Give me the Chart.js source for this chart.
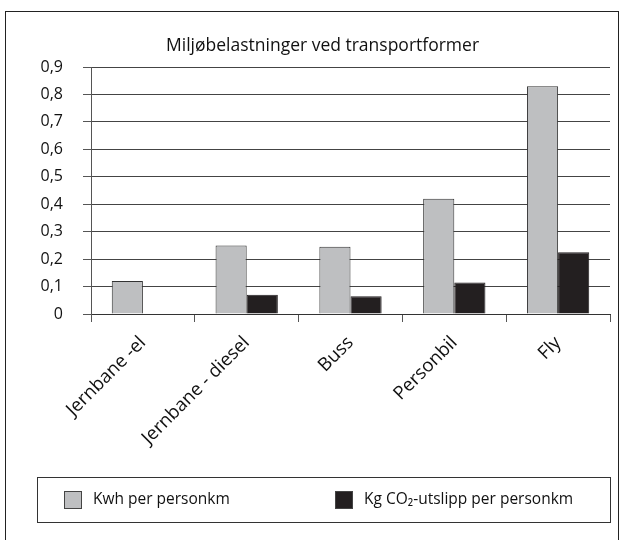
<!DOCTYPE html>
<html>
<head>
<meta charset="utf-8">
<script src="https://cdn.jsdelivr.net/npm/chart.js@4"></script>
<style>
  html, body { margin: 0; padding: 0; background: #fff; }
  #wrap { width: 621px; height: 540px; }
</style>
</head>
<body>
<div id="wrap"><canvas id="myChart" width="621" height="540"></canvas></div>
<script>
// Data

const categories = ["Jernbane -el", "Jernbane - diesel", "Buss", "Personbil", "Fly"];
const kwhPerKm = [0.12, 0.25, 0.245, 0.42, 0.83];
const co2PerKm = [0, 0.07, 0.065, 0.115, 0.225];
const yTickLabels = ["0", "0,1", "0,2", "0,3", "0,4", "0,5", "0,6", "0,7", "0,8", "0,9"];
const seriesNames = ["Kwh per personkm", "Kg CO\u2082-utslipp per personkm"];

const FONT = "'Open Sans', sans-serif";

// Frame round the whole figure and the boxed legend

const framePlugin = {
    id: "frame",
    beforeDraw(chart) {
        const ctx = chart.ctx;
        ctx.save();
        ctx.strokeStyle = "#222";
        ctx.lineWidth = 1;
        ctx.strokeRect(5.5, 11.5, 613, 560);
        ctx.restore();
    },
    afterDraw(chart) {
        const ctx = chart.ctx;
        ctx.save();
        ctx.strokeStyle = "#333";
        ctx.lineWidth = 1;
        ctx.strokeRect(37.5, 477.5, 573, 45);

        const itemX = [64, 335];
        ctx.font = "15.5px " + FONT;
        ctx.textBaseline = "middle";
        ctx.textAlign = "left";
        chart.data.datasets.forEach((ds, i) => {
            const x = itemX[i];
            ctx.fillStyle = ds.backgroundColor;
            ctx.fillRect(x, 491, 18, 18);
            ctx.strokeStyle = "#444";
            ctx.strokeRect(x + 0.5, 491.5, 17, 17);
            ctx.fillStyle = "#111";
            ctx.fillText(ds.label, x + 29, 500);
        });
        ctx.restore();
    }
};

// Config

const config = {
    type: "bar",
    data: {
        labels: categories,
        datasets: [
            {
                label: seriesNames[0],
                data: kwhPerKm,
                backgroundColor: "#bebfc1",
                borderColor: "#333",
                borderWidth: 1
            },
            {
                label: seriesNames[1],
                data: co2PerKm,
                backgroundColor: "#231f20",
                borderColor: "#231f20",
                borderWidth: 1
            }
        ]
    },
    options: {
        responsive: false,
        animation: false,
        categoryPercentage: 0.6,
        barPercentage: 1.0,
        layout: {
            padding: { left: 35, right: 11, top: 0, bottom: 86 }
        },
        plugins: {
            legend: { display: false },
            tooltip: { enabled: false },
            title: {
                display: true,
                text: "Miljøbelastninger ved transportformer",
                color: "#111",
                font: { family: FONT, size: 17.5, weight: "normal" },
                padding: { top: 36, bottom: 10 }
            }
        },
        scales: {
            x: {
                offset: true,
                grid: {
                    offset: true,
                    drawOnChartArea: true,
                    color: (c) => c.index === categories.length ? "#aaa" : "rgba(0,0,0,0)",
                    tickColor: "#555",
                    tickLength: 8
                },
                border: { color: "#333" },
                ticks: {
                    minRotation: 45,
                    maxRotation: 45,
                    padding: 10,
                    color: "#111",
                    font: { family: FONT, size: 18.5 }
                },
                afterFit: (scale) => { scale.height = 140; }
            },
            y: {
                min: 0,
                max: 0.9,
                ticks: {
                    stepSize: 0.1,
                    color: "#111",
                    padding: 20,
                    font: { family: FONT, size: 16 },
                    callback: (value, index) => yTickLabels[index]
                },
                grid: {
                    color: "#444",
                    tickColor: "#555",
                    tickLength: 8
                },
                border: { color: "#555" },
                afterFit: (scale) => { scale.width = 56; }
            }
        }
    },
    plugins: [framePlugin]
};

// Render

const myChart = new Chart(document.getElementById("myChart"), config);
</script>
</body>
</html>
